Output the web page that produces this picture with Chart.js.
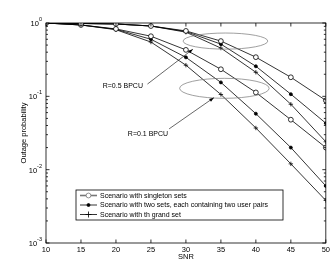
<!DOCTYPE html>
<html>
<head>
<meta charset="utf-8">
<script src="https://cdn.jsdelivr.net/npm/chart.js@4.4.1/dist/chart.umd.min.js"></script>
<style>
  html, body { margin: 0; padding: 0; background: #fff; }
  #wrap { width: 332px; height: 263px; }
</style>
</head>
<body>
<div id="wrap"><canvas id="c"></canvas></div>
<script>
// SNR (dB) samples
const snr = [10, 15, 20, 25, 30, 35, 40, 45, 50];

// R = 0.5 BPCU
const singletonR05 = [1.0, 0.985, 0.97, 0.91, 0.78, 0.567, 0.342, 0.182, 0.088];
const twoSetsR05   = [1.0, 0.985, 0.97, 0.91, 0.765, 0.515, 0.257, 0.107, 0.043];
const grandR05     = [1.0, 0.985, 0.97, 0.91, 0.75, 0.455, 0.213, 0.078, 0.024];
// R = 0.1 BPCU
const singletonR01 = [1.0, 0.94, 0.83, 0.66, 0.43, 0.234, 0.113, 0.048, 0.020];
const twoSetsR01   = [1.0, 0.94, 0.82, 0.60, 0.34, 0.155, 0.058, 0.020, 0.006];
const grandR01     = [1.0, 0.94, 0.81, 0.55, 0.266, 0.106, 0.037, 0.012, 0.0038];

const xTicks = [10, 15, 20, 25, 30, 35, 40, 45, 50];
const yDecades = [1, 0.1, 0.01, 0.001];
const yExponents = ["0", "-1", "-2", "-3"];
const legendLabels = [
  "Scenario with singleton sets",
  "Scenario with two sets, each containing two user pairs",
  "Scenario with th grand set"
];
const rateLabels = ["R=0.5 BPCU", "R=0.1 BPCU"];

const FONT = "'Liberation Sans', Arial, Helvetica, sans-serif";

const pts = (ys) => ys.map((y, i) => ({ x: snr[i], y }));

// marker styles per scenario (singleton, two sets, grand set)
const markerStyles = [
  { pointStyle: "circle", pointRadius: 2.4, pointBackgroundColor: "#fff", pointBorderWidth: 0.8 },
  { pointStyle: "circle", pointRadius: 1.5, pointBackgroundColor: "#000", pointBorderWidth: 0.8 },
  { pointStyle: "cross", pointRadius: 2.2, pointBackgroundColor: "#000", pointBorderWidth: 0.8 }
];

const series = [
  [singletonR05, 0], [twoSetsR05, 1], [grandR05, 2],
  [singletonR01, 0], [twoSetsR01, 1], [grandR01, 2]
];

const datasets = series.map(([ys, k]) => Object.assign({
  label: legendLabels[k],
  data: pts(ys),
  borderColor: "#000",
  borderWidth: 0.8,
  pointBorderColor: "#000",
  fill: false,
  tension: 0
}, markerStyles[k]));

// annotation geometry in data coordinates
const ellipses = [
  { x0: 29.6, x1: 41.7, y0: 0.73, y1: 0.44 },
  { x0: 29.1, x1: 41.9, y0: 0.176, y1: 0.094 }
];
const rateNotes = [
  { tx: 18.1, ty: 0.137, lx0: 24.5, ly0: 0.147, lx1: 31.0, ly1: 0.44 },
  { tx: 21.7, ty: 0.031, lx0: 27.6, ly0: 0.036, lx1: 34.0, ly1: 0.096 }
];

const framePlugin = {
  id: "frame",
  afterDraw(chart) {
    const { ctx, chartArea: a, scales: { x, y } } = chart;
    ctx.save();
    ctx.strokeStyle = "#000";
    ctx.lineWidth = 0.8;

    // box
    ctx.strokeRect(a.left, a.top, a.right - a.left, a.bottom - a.top);

    // inward ticks
    ctx.beginPath();
    xTicks.forEach(v => {
      const px = x.getPixelForValue(v);
      ctx.moveTo(px, a.bottom); ctx.lineTo(px, a.bottom - 3.5);
      ctx.moveTo(px, a.top); ctx.lineTo(px, a.top + 3.5);
    });
    yDecades.forEach(d => {
      const py = y.getPixelForValue(d);
      ctx.moveTo(a.left, py); ctx.lineTo(a.left + 3.5, py);
      ctx.moveTo(a.right, py); ctx.lineTo(a.right - 3.5, py);
      if (d < 1) {
        for (let m = 2; m <= 9; m++) {
          const pm = y.getPixelForValue(d * m);
          ctx.moveTo(a.left, pm); ctx.lineTo(a.left + 2, pm);
          ctx.moveTo(a.right, pm); ctx.lineTo(a.right - 2, pm);
        }
      }
    });
    ctx.stroke();

    // y tick labels 10^n
    ctx.fillStyle = "#000";
    ctx.textBaseline = "middle";
    yDecades.forEach((d, i) => {
      const py = y.getPixelForValue(d);
      ctx.font = "5.5px " + FONT;
      const ew = ctx.measureText(yExponents[i]).width;
      ctx.textAlign = "left";
      const right = a.left - 4;
      ctx.fillText(yExponents[i], right - ew, py - 3.5);
      ctx.font = "7.5px " + FONT;
      ctx.textAlign = "right";
      ctx.fillText("10", right - ew, py + 1);
    });

    // ellipses
    ctx.strokeStyle = "#777";
    ctx.lineWidth = 0.7;
    ellipses.forEach(e => {
      const l = x.getPixelForValue(e.x0), r = x.getPixelForValue(e.x1);
      const t = y.getPixelForValue(e.y0), b = y.getPixelForValue(e.y1);
      ctx.beginPath();
      ctx.ellipse((l + r) / 2, (t + b) / 2, (r - l) / 2, (b - t) / 2, 0, 0, Math.PI * 2);
      ctx.stroke();
    });

    // rate annotations with arrows
    ctx.strokeStyle = "#000";
    ctx.lineWidth = 0.6;
    rateNotes.forEach((n, i) => {
      ctx.font = "7px " + FONT;
      ctx.textAlign = "left";
      ctx.fillText(rateLabels[i], x.getPixelForValue(n.tx), y.getPixelForValue(n.ty));
      const x0 = x.getPixelForValue(n.lx0), y0 = y.getPixelForValue(n.ly0);
      const x1 = x.getPixelForValue(n.lx1), y1 = y.getPixelForValue(n.ly1);
      ctx.beginPath(); ctx.moveTo(x0, y0); ctx.lineTo(x1, y1); ctx.stroke();
      const ang = Math.atan2(y1 - y0, x1 - x0);
      ctx.beginPath();
      ctx.moveTo(x1, y1);
      ctx.lineTo(x1 - 5 * Math.cos(ang - 0.35), y1 - 5 * Math.sin(ang - 0.35));
      ctx.lineTo(x1 - 5 * Math.cos(ang + 0.35), y1 - 5 * Math.sin(ang + 0.35));
      ctx.closePath();
      ctx.fill();
    });

    // legend box
    const lx = a.left + 30, ly = a.top + 167, lw = 207, lh = 30;
    ctx.fillStyle = "#fff";
    ctx.fillRect(lx, ly, lw, lh);
    ctx.strokeStyle = "#000";
    ctx.lineWidth = 0.8;
    ctx.strokeRect(lx, ly, lw, lh);
    legendLabels.forEach((lab, i) => {
      const ry = ly + 5.5 + i * 9.5;
      const ms = markerStyles[i];
      ctx.strokeStyle = i === 0 ? "#777" : "#000";
      ctx.lineWidth = i === 0 ? 1.6 : 0.8;
      ctx.beginPath(); ctx.moveTo(lx + 4, ry); ctx.lineTo(lx + 21, ry); ctx.stroke();
      const cx = lx + 12.5;
      ctx.lineWidth = 0.8;
      ctx.beginPath();
      if (ms.pointStyle === "cross") {
        ctx.moveTo(cx - 3, ry); ctx.lineTo(cx + 3, ry);
        ctx.moveTo(cx, ry - 3); ctx.lineTo(cx, ry + 3);
        ctx.stroke();
      } else {
        ctx.arc(cx, ry, ms.pointRadius, 0, Math.PI * 2);
        ctx.fillStyle = i === 0 ? "#fff" : "#000";
        ctx.fill(); ctx.stroke();
      }
      ctx.fillStyle = "#000";
      ctx.font = "7px " + FONT;
      ctx.textAlign = "left";
      ctx.textBaseline = "middle";
      ctx.fillText(lab, lx + 24, ry + 0.5);
    });
    ctx.restore();
  }
};

new Chart(document.getElementById("c"), {
  type: "line",
  data: { datasets },
  options: {
    responsive: true,
    maintainAspectRatio: false,
    animation: false,
    events: [],
    layout: { padding: { left: 0, top: 23, right: 6, bottom: 0 } },
    plugins: { legend: { display: false }, tooltip: { enabled: false } },
    scales: {
      x: {
        type: "linear",
        min: 10,
        max: 50,
        afterBuildTicks: (s) => { s.ticks = xTicks.map(v => ({ value: v })); },
        afterFit: (s) => { s.height = 20; },
        grid: { display: false, drawTicks: false },
        border: { display: false },
        ticks: { color: "#000", padding: 2, maxRotation: 0, font: { family: FONT, size: 7.5 } },
        title: { display: true, text: "SNR", color: "#000", padding: { top: 0, bottom: 1.5 }, font: { family: FONT, size: 7.5 } }
      },
      y: {
        type: "logarithmic",
        min: 0.001,
        max: 1,
        afterFit: (s) => { s.width = 46; },
        grid: { display: false, drawTicks: false },
        border: { display: false },
        ticks: { display: false },
        title: { display: true, text: "Outage probability", color: "#000", padding: { top: 19.5, bottom: 0 }, font: { family: FONT, size: 7.5 } }
      }
    }
  },
  plugins: [framePlugin]
});
</script>
</body>
</html>
